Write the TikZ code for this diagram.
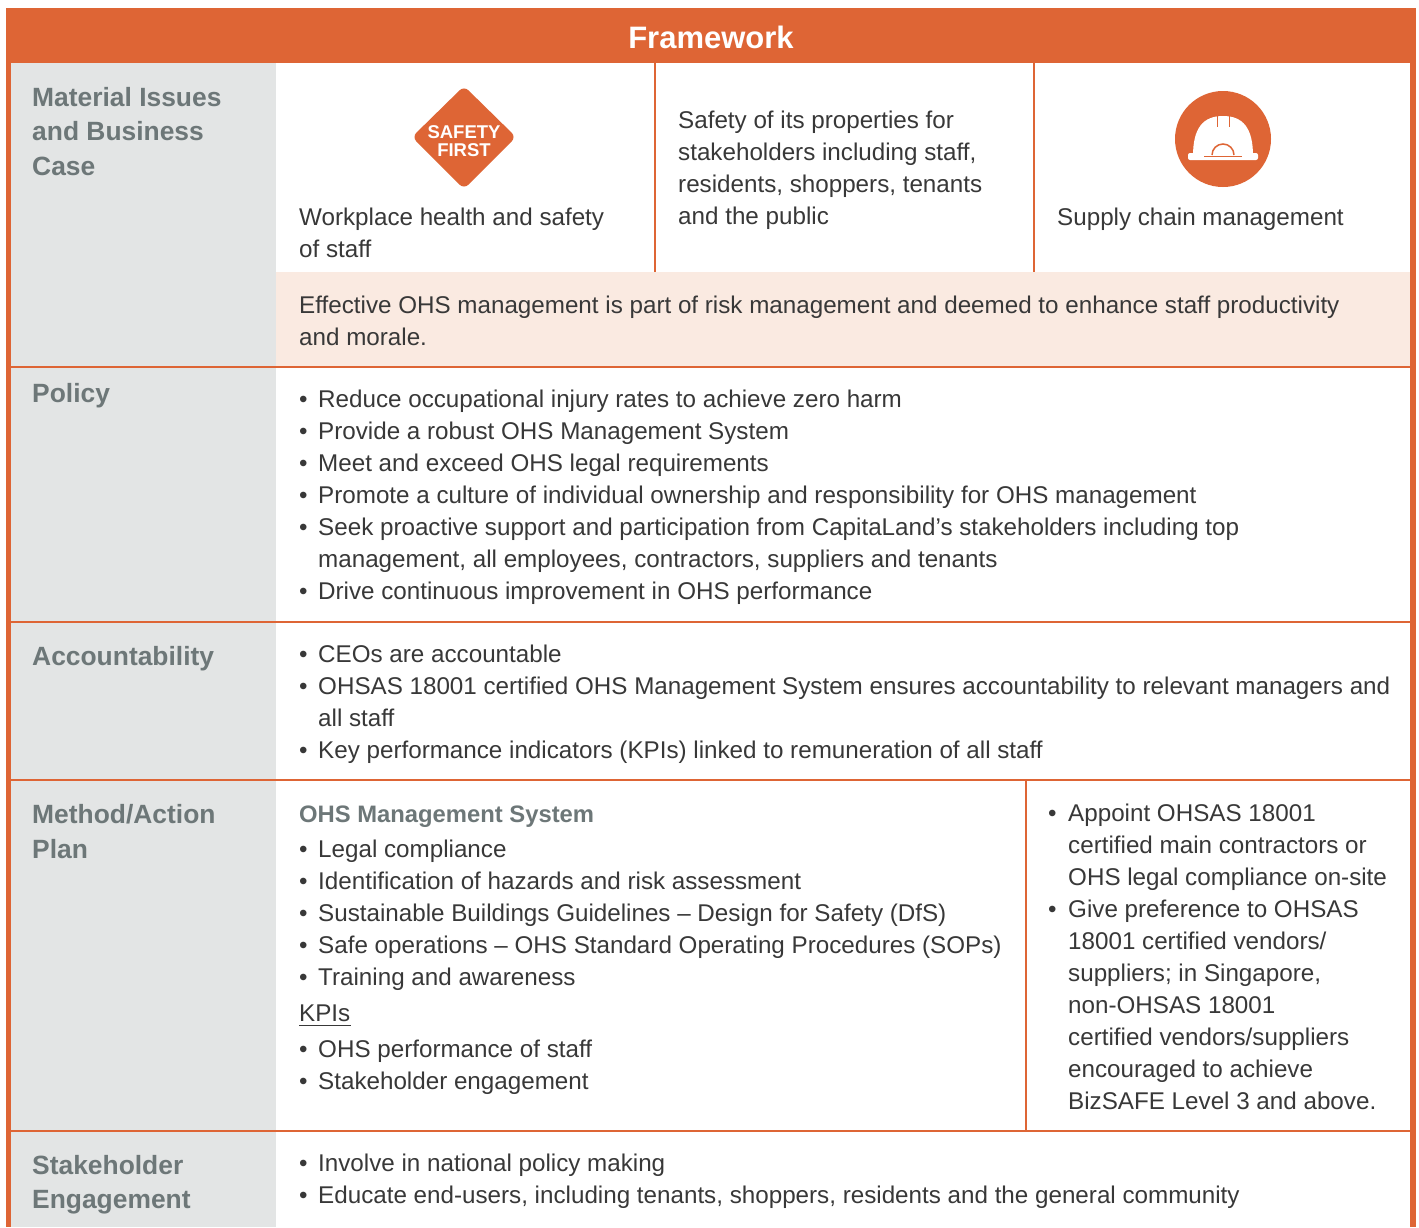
\documentclass[tikz,border=0pt]{standalone}
\usepackage{fontspec}
\setmainfont{Liberation Sans}
\definecolor{ora}{HTML}{DE6535}
\definecolor{labgray}{HTML}{6D7778}
\definecolor{colgray}{HTML}{E3E5E5}
\definecolor{pinkbg}{HTML}{FAEAE1}
\definecolor{bodytxt}{HTML}{383838}
\begin{document}
\begin{tikzpicture}[x=1pt,y=-1pt,
  lab/.style={anchor=base west,inner sep=0pt,text=labgray,font=\fontsize{26.4}{34}\selectfont\bfseries},
  body/.style={anchor=base west,inner sep=0pt,text=bodytxt,font=\fontsize{24.2}{32}\selectfont},
  subhead/.style={anchor=base west,inner sep=0pt,text=labgray,font=\fontsize{23.8}{32}\selectfont\bfseries},
  grid/.style={draw=ora,line width=1.5pt},
  badge/.style={anchor=base,inner sep=0pt,text=white,font=\fontsize{18.5}{18}\selectfont\bfseries}]
\useasboundingbox (0,0) rectangle (1419,1227);
\fill[white] (0,0) rectangle (1419,1227);
% backgrounds
\fill[colgray] (11,63) rectangle (276,1227);
\fill[pinkbg] (276,272) rectangle (1410,367);
\fill[ora] (6,8) rectangle (1416,63);
\fill[ora] (6,63) rectangle (11,1227);
\fill[ora] (1410,63) rectangle (1416,1227);
% grid lines
\draw[grid] (11,367) -- (1410,367);
\draw[grid] (11,622) -- (1410,622);
\draw[grid] (11,780) -- (1410,780);
\draw[grid] (11,1131) -- (1410,1131);
\draw[grid] (655,63) -- (655,272);
\draw[grid] (1034,63) -- (1034,272);
\draw[grid] (1026,780) -- (1026,1131);
% header
\node[anchor=base,inner sep=0pt,text=white,font=\fontsize{31}{34}\selectfont\bfseries] (hdr) at (711,48) {Framework};
% labels
\node[lab] (l1a) at (32,106) {Material Issues};
\node[lab] (l1b) at (32,140) {and Business};
\node[lab] (l1c) at (32,175) {Case};
\node[lab] (l2) at (32,402) {Policy};
\node[lab] (l3) at (32,665) {Accountability};
\node[lab] (l4a) at (32,823) {Method/Action};
\node[lab] (l4b) at (32,858) {Plan};
\node[lab] (l5a) at (32,1174) {Stakeholder};
\node[lab] (l5b) at (32,1208) {Engagement};
% safety first badge
\fill[ora,rounded corners=6pt] (464,86) -- (516,137) -- (464,189) -- (412,137) -- cycle;
\node[badge] (sf1) at (464,138) {SAFETY};
\node[badge] (sf2) at (464,156) {FIRST};
% helmet icon
\fill[ora] (1223,139) circle[radius=48];
\fill[white] (1193,156) .. controls (1193,128) and (1203,116) .. (1223,116) .. controls (1243,116) and (1253,128) .. (1253,156) -- cycle;
\fill[white,rounded corners=2pt] (1188,153) rectangle (1258,160);
\draw[ora,line width=1.2pt] (1204,156.5) -- (1242,156.5);
\draw[ora,line width=1.5pt] (1212,155) arc[start angle=180,end angle=360,radius=11];
\draw[ora,line width=1.2pt] (1217.5,114) -- (1217.5,127);
\draw[ora,line width=1.2pt] (1229.5,114) -- (1229.5,127);
% row 1 texts
\node[body] (r1a) at (299,225) {Workplace health and safety};
\node[body] (r1b) at (299,257) {of staff};
\node[body] (r1c) at (678,128) {Safety of its properties for};
\node[body] (r1d) at (678,160) {stakeholders including staff,};
\node[body] (r1e) at (678,192) {residents, shoppers, tenants};
\node[body] (r1f) at (678,224) {and the public};
\node[body] (r1g) at (1057,225) {Supply chain management};
\node[body] (r1h) at (299,313) {Effective OHS management is part of risk management and deemed to enhance staff productivity};
\node[body] (r1i) at (299,345) {and morale.};
% policy
\node[body] (pb1) at (299,407) {•}; \node[body] (p1) at (318,407) {Reduce occupational injury rates to achieve zero harm};
\node[body] (pb2) at (299,439) {•}; \node[body] (p2) at (318,439) {Provide a robust OHS Management System};
\node[body] (pb3) at (299,471) {•}; \node[body] (p3) at (318,471) {Meet and exceed OHS legal requirements};
\node[body] (pb4) at (299,503) {•}; \node[body] (p4) at (318,503) {Promote a culture of individual ownership and responsibility for OHS management};
\node[body] (pb5) at (299,535) {•}; \node[body] (p5) at (318,535) {Seek proactive support and participation from CapitaLand’s stakeholders including top};
\node[body] (p5b) at (318,567) {management, all employees, contractors, suppliers and tenants};
\node[body] (pb6) at (299,599) {•}; \node[body] (p6) at (318,599) {Drive continuous improvement in OHS performance};
% accountability
\node[body] (ab1) at (299,662) {•}; \node[body] (a1) at (318,662) {CEOs are accountable};
\node[body] (ab2) at (299,694) {•}; \node[body] (a2) at (318,694) {OHSAS 18001 certified OHS Management System ensures accountability to relevant managers and};
\node[body] (a2b) at (318,726) {all staff};
\node[body] (ab3) at (299,758) {•}; \node[body] (a3) at (318,758) {Key performance indicators (KPIs) linked to remuneration of all staff};
% method left
\node[subhead] (mh) at (299,822) {OHS Management System};
\node[body] (mb1) at (299,857) {•}; \node[body] (m1) at (318,857) {Legal compliance};
\node[body] (mb2) at (299,889) {•}; \node[body] (m2) at (318,889) {Identification of hazards and risk assessment};
\node[body] (mb3) at (299,921) {•}; \node[body] (m3) at (318,921) {Sustainable Buildings Guidelines – Design for Safety (DfS)};
\node[body] (mb4) at (299,953) {•}; \node[body] (m4) at (318,953) {Safe operations – OHS Standard Operating Procedures (SOPs)};
\node[body] (mb5) at (299,985) {•}; \node[body] (m5) at (318,985) {Training and awareness};
\node[body] (kpi) at (299,1021) {KPIs};
\draw[bodytxt,line width=1pt] ([yshift=-4pt]kpi.base west) -- ([yshift=-4pt]kpi.base east);
\node[body] (mb6) at (299,1057) {•}; \node[body] (m6) at (318,1057) {OHS performance of staff};
\node[body] (mb7) at (299,1089) {•}; \node[body] (m7) at (318,1089) {Stakeholder engagement};
% method right
\node[body] (nb1) at (1048,821) {•}; \node[body] (n1) at (1068,821) {Appoint OHSAS 18001};
\node[body] (n2) at (1068,853) {certified main contractors or};
\node[body] (n3) at (1068,885) {OHS legal compliance on-site};
\node[body] (nb2) at (1048,917) {•}; \node[body] (n4) at (1068,917) {Give preference to OHSAS};
\node[body] (n5) at (1068,949) {18001 certified vendors/};
\node[body] (n6) at (1068,981) {suppliers; in Singapore,};
\node[body] (n7) at (1068,1013) {non-OHSAS 18001};
\node[body] (n8) at (1068,1045) {certified vendors/suppliers};
\node[body] (n9) at (1068,1077) {encouraged to achieve};
\node[body] (n10) at (1068,1109) {BizSAFE Level 3 and above.};
% stakeholder
\node[body] (sb1) at (299,1171) {•}; \node[body] (s1) at (318,1171) {Involve in national policy making};
\node[body] (sb2) at (299,1203) {•}; \node[body] (s2) at (318,1203) {Educate end-users, including tenants, shoppers, residents and the general community};
\end{tikzpicture}
\end{document}
